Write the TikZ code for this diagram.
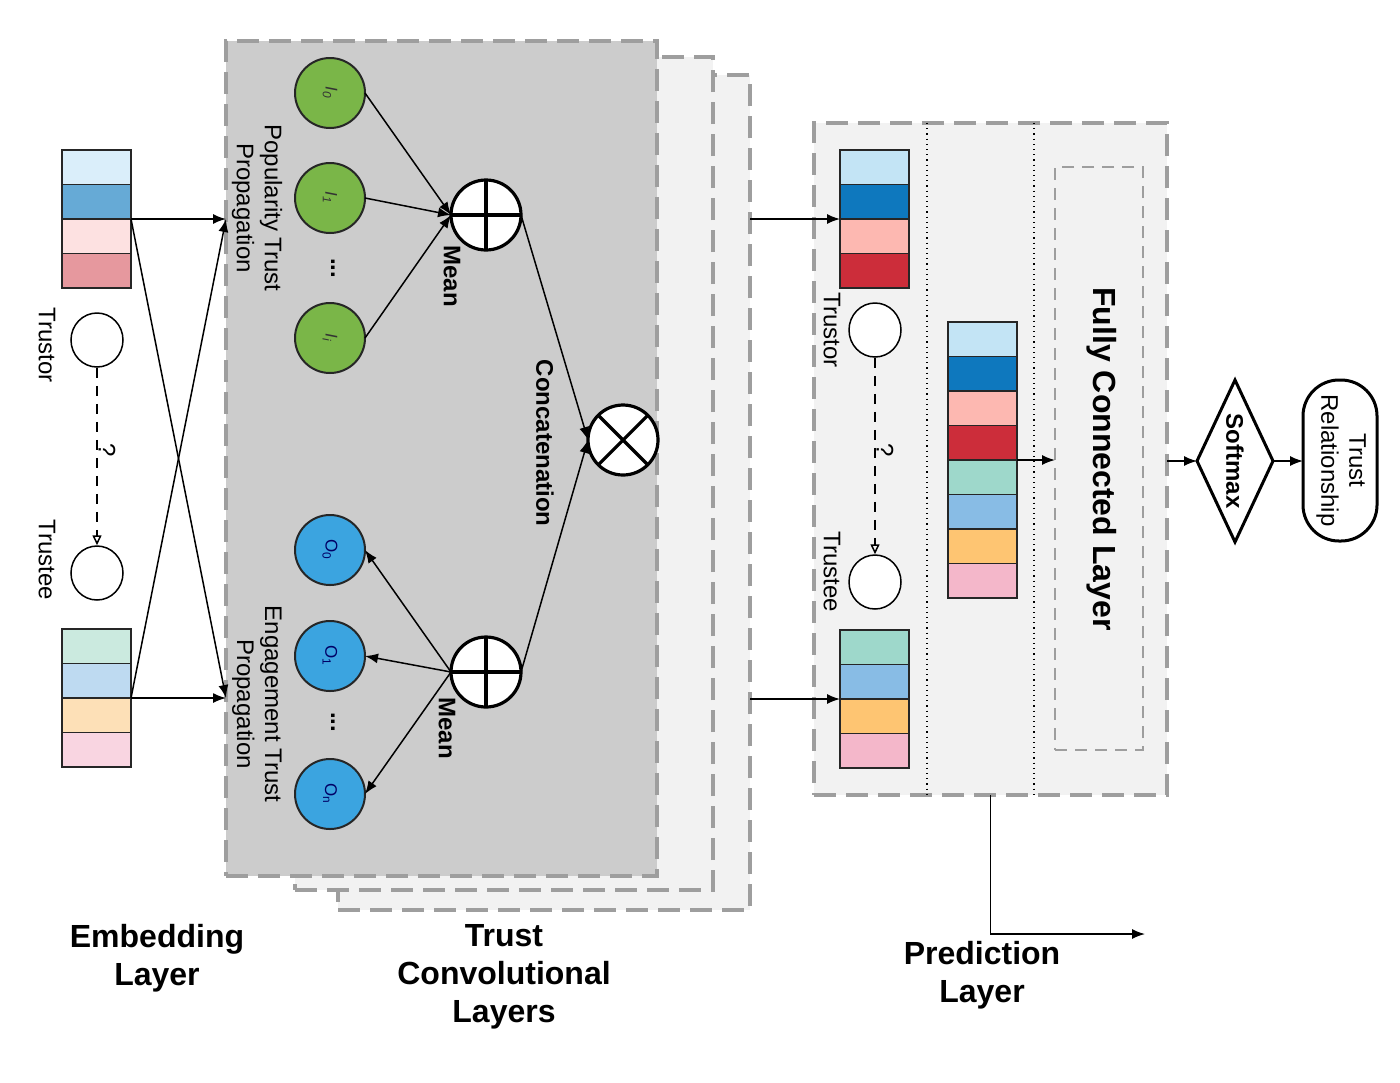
\documentclass[tikz,border=0pt]{standalone}
\usepackage{fontspec}
\setmainfont{Liberation Sans}
\usetikzlibrary{arrows.meta,shapes.geometric}
\definecolor{eA}{HTML}{DAEEFA}
\definecolor{eB}{HTML}{66AAD6}
\definecolor{eC}{HTML}{FDE1E1}
\definecolor{eD}{HTML}{E6989E}
\definecolor{eE}{HTML}{CBEADF}
\definecolor{eF}{HTML}{BEDAF1}
\definecolor{eG}{HTML}{FDE0B7}
\definecolor{eH}{HTML}{F9D5E1}
\definecolor{pA}{HTML}{C3E4F5}
\definecolor{pB}{HTML}{0E78BE}
\definecolor{pC}{HTML}{FDB8B1}
\definecolor{pD}{HTML}{CC2D3A}
\definecolor{pE}{HTML}{9ED8CB}
\definecolor{pF}{HTML}{88BCE5}
\definecolor{pG}{HTML}{FEC572}
\definecolor{pH}{HTML}{F4B7CA}
\definecolor{igreen}{HTML}{7AB648}
\definecolor{oblue}{HTML}{3BA4E0}
\definecolor{frontgray}{HTML}{CCCCCC}
\definecolor{backgray}{HTML}{F2F2F2}
\definecolor{dashgray}{HTML}{9E9E9E}
\begin{document}
\begin{tikzpicture}[x=0.5pt,y=-0.5pt,
  cell/.style={draw=black!85, line width=0.75pt, minimum width=34.5pt, minimum height=17.25pt, inner sep=0pt, outer sep=0pt},
  conn/.style={line width=0.75pt, -{Latex[length=6.5pt,width=5pt]}},
  qarrow/.style={line width=0.75pt, dash pattern=on 5pt off 4pt, -{Triangle[open,length=5pt,width=4.5pt]}},
  layerbox/.style={draw=dashgray, line width=1.6pt, dash pattern=on 11pt off 5pt, inner sep=0pt, outer sep=0pt},
  usr/.style={draw=black, fill=white, ellipse, line width=0.75pt, minimum width=26pt, minimum height=27pt, inner sep=0pt},
  inode/.style={draw=black!85, circle, fill=igreen, line width=1pt, minimum size=35pt, inner sep=0pt, outer sep=0pt},
  onode/.style={draw=black!85, circle, fill=oblue, line width=1pt, minimum size=35pt, inner sep=0pt, outer sep=0pt},
  opnode/.style={draw=black, circle, fill=white, line width=1.6pt, minimum size=35pt, inner sep=0pt, outer sep=0pt},
  lbl/.style={rotate=-90, inner sep=0pt, font=\fontsize{12}{14}\selectfont},
  blbl/.style={rotate=-90, inner sep=0pt, font=\bfseries\fontsize{12}{14}\selectfont},
  sublbl/.style={rotate=-90, inner sep=0pt, font=\fontsize{8.5}{9}\selectfont},
  title/.style={align=center, inner sep=0pt, font=\bfseries\fontsize{16}{19}\selectfont}
]
\useasboundingbox (0,0) rectangle (1400,1082);

% ---------- Trust convolutional layer stack ----------
\node[layerbox, fill=backgray, minimum width=206pt, minimum height=417.5pt] (back) at (544,492.5) {};
\node[layerbox, fill=backgray, minimum width=209pt, minimum height=416.5pt] (mid) at (504,473.5) {};
\node[layerbox, fill=frontgray, minimum width=215.5pt, minimum height=417.5pt] (front) at (441.5,458.5) {};

% ---------- Embedding layer ----------
\node[cell, fill=eA] (e1) at (96.5,167.25) {};
\node[cell, fill=eB] (e2) at (96.5,201.75) {};
\node[cell, fill=eC] (e3) at (96.5,236.25) {};
\node[cell, fill=eD] (e4) at (96.5,270.75) {};
\node[cell, fill=eE] (f1) at (96.5,646.25) {};
\node[cell, fill=eF] (f2) at (96.5,680.75) {};
\node[cell, fill=eG] (f3) at (96.5,715.25) {};
\node[cell, fill=eH] (f4) at (96.5,749.75) {};

\node[usr] (etor) at (97,340) {};
\node[usr] (etee) at (97,573) {};
\draw[qarrow] (etor.south) -- (etee.north);
\node[lbl] (eq) at (107,450) {?};
\node[lbl] (etorl) at (47,345) {Trustor};
\node[lbl] (eteel) at (47,560) {Trustee};

\draw[conn] (e2.south east) -- (front.west |- e2.south east);
\draw[conn] (e2.south east) -- (front.west |- f2.south east);
\draw[conn] (f2.south east) -- (front.west |- f2.south east);
\draw[conn] (f2.south east) -- (front.west |- e2.south east);

% ---------- Front layer content ----------
\node[lbl, align=center] (poplbl) at (257,208) {Popularity Trust\\Propagation};
\node[lbl, align=center] (englbl) at (257,704) {Engagement Trust\\Propagation};

\node[inode] (I0) at (330,93) {};
\node[inode] (I1) at (330,198) {};
\node[inode] (Ii) at (330,338) {};
\node[sublbl, text=black!80] at (I0) {\textit{I}\textsubscript{\textit{0}}};
\node[sublbl, text=black!80] at (I1) {\textit{I}\textsubscript{\textit{1}}};
\node[sublbl, text=black!80] at (Ii) {\textit{I}\textsubscript{\textit{i}}};
\node[blbl] (idots) at (333,268) {...};

\node[onode] (O0) at (330,550) {};
\node[onode] (O1) at (330,656) {};
\node[onode] (On) at (330,794) {};
\node[sublbl, text=blue!40!black] at (O0) {O\textsubscript{0}};
\node[sublbl, text=blue!40!black] at (O1) {O\textsubscript{1}};
\node[sublbl, text=blue!40!black] at (On) {O\textsubscript{n}};
\node[blbl] (odots) at (333,722) {...};

\node[opnode] (p1) at (486,215) {};
\draw[line width=1.6pt] (p1.north) -- (p1.south) (p1.west) -- (p1.east);
\node[opnode] (p2) at (486,672) {};
\draw[line width=1.6pt] (p2.north) -- (p2.south) (p2.west) -- (p2.east);
\node[opnode] (cx) at (623,440) {};
\draw[line width=1.6pt] (cx.45) -- (cx.225) (cx.135) -- (cx.315);

\node[blbl] (mean1) at (452,276) {Mean};
\node[blbl] (mean2) at (447,728) {Mean};
\node[blbl] (concl) at (545,443) {Concatenation};

\draw[conn] (I0.east) -- (p1.west);
\draw[conn] (I1.east) -- (p1.west);
\draw[conn] (Ii.east) -- (p1.west);
\draw[conn] (p2.west) -- (O0.east);
\draw[conn] (p2.west) -- (O1.east);
\draw[conn] (p2.west) -- (On.east);
\draw[conn] (p1.east) -- (cx.west);
\draw[conn] (p2.east) -- (cx.west);

% ---------- Prediction layer ----------
\node[layerbox, fill=backgray, minimum width=176.5pt, minimum height=336pt] (pred) at (990.5,459) {};
\coordinate (d1t) at (927,123);
\coordinate (d1b) at (927,795);
\coordinate (d2t) at (1034,123);
\coordinate (d2b) at (1034,795);
\draw[dotted, line width=0.6pt] (d1t) -- (d1b);
\draw[dotted, line width=0.6pt] (d2t) -- (d2b);

\node[cell, fill=pA] (q1) at (874.5,167.25) {};
\node[cell, fill=pB] (q2) at (874.5,201.75) {};
\node[cell, fill=pC] (q3) at (874.5,236.25) {};
\node[cell, fill=pD] (q4) at (874.5,270.75) {};
\node[cell, fill=pE] (r1) at (874.5,647.25) {};
\node[cell, fill=pF] (r2) at (874.5,681.75) {};
\node[cell, fill=pG] (r3) at (874.5,716.25) {};
\node[cell, fill=pH] (r4) at (874.5,750.75) {};

\node[usr] (ptor) at (875,330) {};
\node[usr] (ptee) at (875,582) {};
\draw[qarrow] (ptor.south) -- (ptee.north);
\node[lbl] (pq) at (885,450) {?};
\node[lbl] (ptorl) at (832,330) {Trustor};
\node[lbl] (pteel) at (832,572) {Trustee};

\node[cell, fill=pA] (m1) at (982.5,339.25) {};
\node[cell, fill=pB] (m2) at (982.5,373.75) {};
\node[cell, fill=pC] (m3) at (982.5,408.25) {};
\node[cell, fill=pD] (m4) at (982.5,442.75) {};
\node[cell, fill=pE] (m5) at (982.5,477.25) {};
\node[cell, fill=pF] (m6) at (982.5,511.75) {};
\node[cell, fill=pG] (m7) at (982.5,546.25) {};
\node[cell, fill=pH] (m8) at (982.5,580.75) {};

\node[draw=dashgray, line width=0.75pt, dash pattern=on 6pt off 4pt, minimum width=44pt, minimum height=291.5pt, inner sep=0pt, outer sep=0pt] (fc) at (1099,458.5) {};
\node[rotate=-90, inner sep=0pt, font=\bfseries\fontsize{16}{19}\selectfont] (fcl) at (1102,459) {Fully Connected Layer};

\draw[conn] (back.east |- q2.south west) -- (q2.south west);
\draw[conn] (back.east |- r2.south west) -- (r2.south west);
\draw[conn] (m4.south east) -- (fc.west |- m4.south east);

% ---------- Softmax and output ----------
\node[draw, diamond, line width=1.5pt, minimum width=38pt, minimum height=81pt, inner sep=0pt, outer sep=0pt] (soft) at (1235,461) {};
\node[blbl] (softl) at (1235,461) {Softmax};
\node[draw, rectangle, rounded corners=18pt, line width=1.5pt, minimum width=37pt, minimum height=80.5pt, inner sep=0pt, outer sep=0pt] (trel) at (1340,460.5) {};
\node[lbl, align=center] (trell) at (1341,460.5) {Trust\\Relationship};

\draw[conn] (pred.east |- soft.west) -- (soft.west);
\draw[conn] (soft.east) -- (soft.east -| trel.west);

\coordinate (predout) at (1145,934);
\draw[conn] (pred.south) |- (predout);

% ---------- Titles ----------
\node[title] (t1) at (157,958) {Embedding\\Layer};
\node[title] (t2) at (504,977) {Trust\\Convolutional\\Layers};
\node[title] (t3) at (982,975) {Prediction\\Layer};
\end{tikzpicture}
\end{document}
